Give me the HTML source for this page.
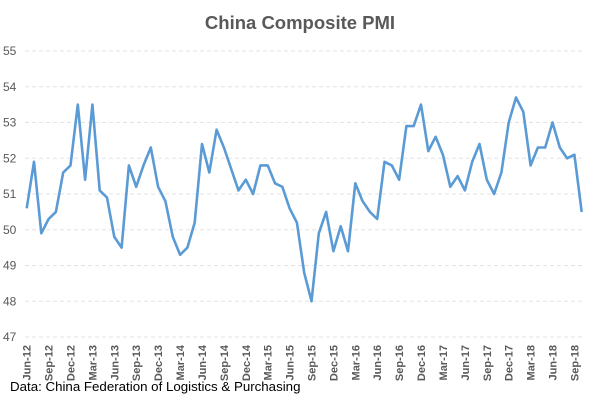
<!DOCTYPE html>
<html><head><meta charset="utf-8"><style>
body{margin:0;background:#fff;}
svg{display:block;font-family:"Liberation Sans",sans-serif;}
</style></head><body>
<svg id="chart" width="600" height="400">
<text x="300" y="29" text-anchor="middle" font-size="18.5" font-weight="bold" fill="#595959">China  Composite  PMI</text>
<g id="grid"></g><g id="yl"></g><g id="xl"></g>
<path id="line" fill="none" stroke="#5b9bd5" stroke-width="2.6" stroke-linejoin="round"></path>
<text x="10" y="391" font-size="13.3" fill="#000">Data: China Federation of Logistics &amp; Purchasing</text>
</svg>
<script>
const startYear = 2012, startMonth = 5;
const pmiValues = [50.6,51.9,49.9,50.3,50.5,51.6,51.8,53.5,51.4,53.5,51.1,50.9,49.8,49.5,51.8,51.2,51.8,52.3,51.2,50.8,49.8,49.3,49.5,50.2,52.4,51.6,52.8,52.3,51.7,51.1,51.4,51.0,51.8,51.8,51.3,51.2,50.6,50.2,48.8,48.0,49.9,50.5,49.4,50.1,49.4,51.3,50.8,50.5,50.3,51.9,51.8,51.4,52.9,52.9,53.5,52.2,52.6,52.1,51.2,51.5,51.1,51.9,52.4,51.4,51.0,51.6,53.0,53.7,53.3,51.8,52.3,52.3,53.0,52.3,52.0,52.1,50.5];
const yTicks = [47,48,49,50,51,52,53,54,55];
const monthNames = ["Jan","Feb","Mar","Apr","May","Jun","Jul","Aug","Sep","Oct","Nov","Dec"];
const NS="http://www.w3.org/2000/svg";
const x0=26.7,x1=581.7,yTop=51,yBot=337;
const xs=i=>x0+i*(x1-x0)/(pmiValues.length-1);
const ys=v=>yBot-(v-47)*(yBot-yTop)/8;
const grid=document.getElementById('grid'),yl=document.getElementById('yl'),xl=document.getElementById('xl');
yTicks.forEach(t=>{
 const l=document.createElementNS(NS,'line');
 l.setAttribute('x1',25);l.setAttribute('x2',584);l.setAttribute('y1',ys(t));l.setAttribute('y2',ys(t));
 l.setAttribute('stroke','#e3e3e3');l.setAttribute('stroke-dasharray','4,3');
 
 
 grid.appendChild(l);
 const tx=document.createElementNS(NS,'text');
 tx.setAttribute('x',3);tx.setAttribute('y',ys(t)+4);tx.setAttribute('font-size','12');tx.setAttribute('fill','#595959');
 tx.textContent=t;
 
 
 yl.appendChild(tx);
});
pmiValues.forEach((v,i)=>{
 if(i%3!==0) return;
 const m=(startMonth+i)%12, y=startYear+Math.floor((startMonth+i)/12);
 const tx=document.createElementNS(NS,'text');
 const X=xs(i)+4;
 tx.setAttribute('transform','translate('+X+',345) rotate(-90)');
 tx.setAttribute('text-anchor','end');tx.setAttribute('font-size','11');tx.setAttribute('font-weight','bold');tx.setAttribute('fill','#595959');
 tx.textContent=monthNames[m]+'-'+String(y%100);
 
 
 xl.appendChild(tx);
});
document.getElementById('line').setAttribute('d',pmiValues.map((v,i)=>(i?'L':'M')+xs(i).toFixed(1)+','+ys(v).toFixed(1)).join(''));
</script>
</body></html>
